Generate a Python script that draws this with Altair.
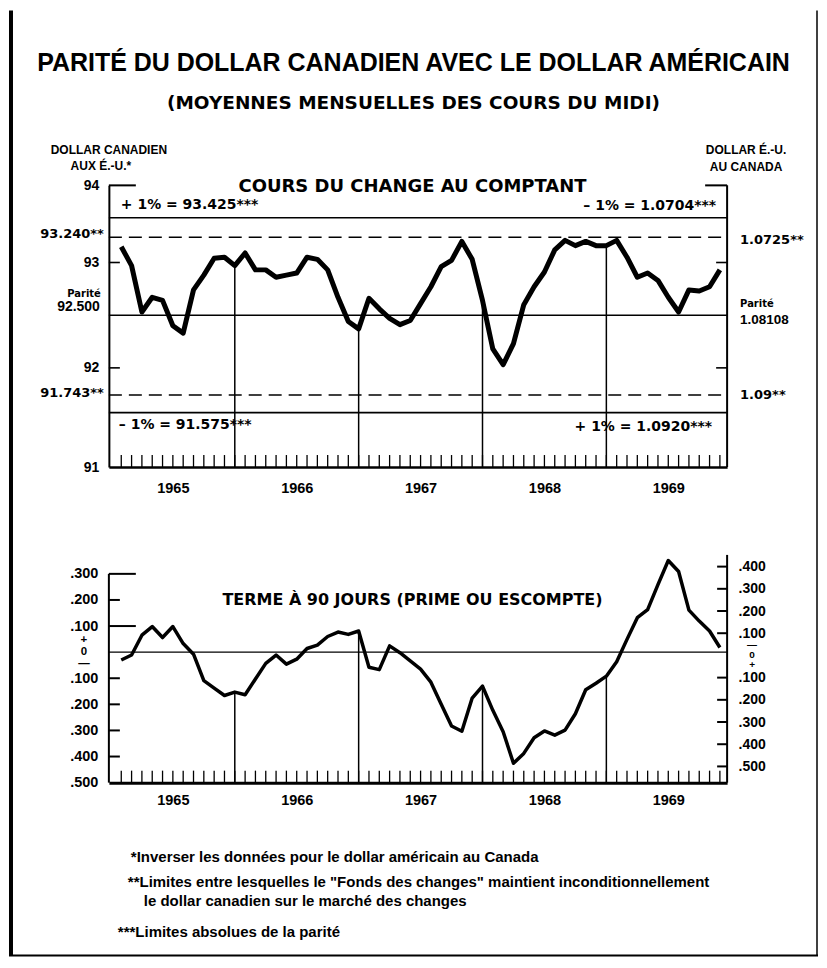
import altair as alt
import pandas as pd

# ---------------- data ----------------
month_index = list(range(59))  # 0 = Jan 1965 ... 58 = Nov 1969

spot_rate = [93.15, 92.97, 92.53, 92.67, 92.64, 92.40, 92.33, 92.74, 92.88, 93.04, 93.05, 92.97,
             93.09, 92.93, 92.93, 92.86, 92.88, 92.90, 93.05, 93.03, 92.93, 92.67, 92.44, 92.37,
             92.66, 92.56, 92.47, 92.41, 92.45, 92.61, 92.77, 92.96, 93.02, 93.20, 93.03, 92.64,
             92.18, 92.03, 92.23, 92.60, 92.77, 92.91, 93.12, 93.21, 93.16, 93.20, 93.16, 93.16,
             93.21, 93.05, 92.86, 92.90, 92.83, 92.67, 92.53, 92.74, 92.73, 92.77, 92.93]

forward_90 = [-0.030, -0.011, 0.065, 0.098, 0.056, 0.098, 0.033, -0.008, -0.109, -0.138, -0.166, -0.153,
              -0.163, -0.103, -0.043, -0.011, -0.046, -0.027, 0.014, 0.027, 0.060, 0.077, 0.068, 0.081,
              -0.058, -0.067, 0.024, -0.002, -0.033, -0.065, -0.115, -0.200, -0.283, -0.303, -0.176, -0.130,
              -0.223, -0.305, -0.426, -0.388, -0.328, -0.302, -0.318, -0.299, -0.236, -0.144, -0.119, -0.092,
              -0.037, 0.049, 0.132, 0.163, 0.259, 0.351, 0.309, 0.161, 0.119, 0.081, 0.018]

years = ["1965", "1966", "1967", "1968", "1969"]
year_label_month = [5, 17, 29, 41, 53]
december_month = [11, 23, 35, 47]

parity_can = 92.500
fund_limits_can = [93.240, 91.743]
absolute_limits_can = [93.425, 91.575]

top_axis_values = [91.059, 92, 93, 93.732]
top_axis_text = ["91", "92", "93", "94"]
top_inner_ticks = [92, 93]

bottom_left_values = [0.3, 0.2, 0.1, -0.1, -0.2, -0.3, -0.4, -0.5]
bottom_right_values = [0.4, 0.3, 0.2, 0.1, -0.1, -0.2, -0.3, -0.4, -0.5]
bottom_left_long = [0.3, 0.1]
bottom_left_short = [0.2, -0.1, -0.2, -0.3, -0.4]
left_zero_label = ["+", "0", "—"]
right_zero_label = ["—", "0", "+"]

title_text = "PARITÉ DU DOLLAR CANADIEN AVEC LE DOLLAR AMÉRICAIN"
subtitle_text = "(MOYENNES MENSUELLES DES COURS DU MIDI)"
left_unit = ["DOLLAR CANADIEN", "AUX É.-U.*"]
right_unit = ["DOLLAR É.-U.", "AU CANADA"]
top_panel_title = "COURS DU CHANGE AU COMPTANT"
bottom_panel_title = "TERME À 90 JOURS (PRIME OU ESCOMPTE)"
left_limit_labels = ["93.240**", "91.743**"]
right_limit_labels = ["1.0725**", "1.09**"]
parity_word = "Parité"
parity_left = "92.500"
parity_right = "1.08108"
abs_left_texts = ["+ 1% = 93.425***", "– 1% = 91.575***"]
abs_right_texts = ["– 1% = 1.0704***", "+ 1% = 1.0920***"]
footnotes = [
    "*Inverser les données pour le dollar  américain au Canada",
    "**Limites entre lesquelles le \"Fonds des changes\" maintient inconditionnellement",
    "le dollar canadien sur le marché des changes",
    "***Limites absolues de la parité",
]

# ---------------- styling / layout ----------------
SANS = "Liberation Sans"
WIDE = "DejaVu Sans"

W, H1, H2 = 619, 282, 228
GAP = 88

xs = alt.Scale(domain=[-1.2, 58.7], nice=False, zero=False)
yt = alt.Scale(domain=[91.059, 93.732], nice=False, zero=False)
ybl = alt.Scale(domain=[-0.5, 0.3726], nice=False, zero=False)
ybr = alt.Scale(domain=[-0.573, 0.4527], nice=False, zero=False)


def js_list(vals):
    return "[" + ",".join(repr(v) if not isinstance(v, str) else "'" + v + "'" for v in vals) + "]"


year_expr = js_list(years) + "[indexof(" + js_list(year_label_month) + ", datum.value)]"
top_y_expr = js_list(top_axis_text) + "[indexof(" + js_list(top_axis_values) + ", datum.value)]"
num_expr = "replace(format(abs(datum.value), '.3f'), '0.', '.')"


def x_axis(pad, dw):
    return alt.Axis(values=year_label_month, labelExpr=year_expr, ticks=False, grid=False,
                    domain=True, domainColor="black", domainWidth=dw, labelFont=SANS,
                    labelFontSize=14.5, labelFontWeight="bold", labelColor="black",
                    labelPadding=pad, labelFlush=False, title=None)


AX_X_TOP = x_axis(15, 2.5)
AX_X_BOT = x_axis(11, 3)
AX_Y_TOP = alt.Axis(values=top_axis_values, labelExpr=top_y_expr, ticks=False, grid=False,
                    domain=True, domainColor="black", domainWidth=2, labelFont=SANS,
                    labelFontSize=14, labelFontWeight="bold", labelColor="black",
                    labelPadding=10, title=None, orient="left")
AX_Y_BL = alt.Axis(values=bottom_left_values, labelExpr=num_expr, ticks=False, grid=False,
                   domain=False, labelFont=SANS, labelFontSize=14.5, labelFontWeight="bold",
                   labelColor="black", labelPadding=11, title=None, orient="left")
AX_Y_BR = alt.Axis(values=bottom_right_values, labelExpr=num_expr, ticks=False, grid=False,
                   domain=False, labelFont=SANS, labelFontSize=14, labelFontWeight="bold",
                   labelColor="black", labelPadding=11, title=None, orient="right")


def base(df=None):
    return alt.Chart(df if df is not None else pd.DataFrame({"k": [0]}))


def ptext(text, x, y, size, font=SANS, align="center"):
    return base().mark_text(text=text, font=font, fontSize=size, fontWeight="bold",
                            align=align, baseline="middle", color="black").encode(
        x=alt.value(x), y=alt.value(y))


def vtext(text, v, yscale, yaxis, x, dy, size, font=WIDE, align="left", line_height=None):
    mk = dict(text=text, font=font, fontSize=size, fontWeight="bold", align=align,
              baseline="middle", dy=dy, color="black")
    if line_height:
        mk["lineHeight"] = line_height
    return base(pd.DataFrame({"v": [v]})).mark_text(**mk).encode(
        x=alt.value(x), y=alt.Y("v:Q", scale=yscale, axis=yaxis))


def hrule(values, yscale, yaxis, x0, x1, sw, dash=None):
    mk = dict(color="black", strokeWidth=sw)
    if dash:
        mk["strokeDash"] = dash
    return base(pd.DataFrame({"v": values})).mark_rule(**mk).encode(
        y=alt.Y("v:Q", scale=yscale, axis=yaxis), x=alt.value(x0), x2=alt.value(x1))


def prule(x0, y0, x1, y1, sw):
    return base().mark_rule(color="black", strokeWidth=sw).encode(
        x=alt.value(x0), y=alt.value(y0), x2=alt.value(x1), y2=alt.value(y1))


df_spot = pd.DataFrame({"t": month_index, "v": spot_rate})
df_fwd = pd.DataFrame({"t": month_index, "v": forward_90})
df_dec_spot = pd.DataFrame({"t": december_month, "v": [spot_rate[i] for i in december_month]})
df_dec_fwd = pd.DataFrame({"t": december_month, "v": [forward_90[i] for i in december_month]})
df_months = pd.DataFrame({"t": month_index})


def month_ticks(h, xaxis):
    return base(df_months).mark_rule(color="black", strokeWidth=1.3).encode(
        x=alt.X("t:Q", scale=xs, axis=xaxis), y=alt.value(h - 12), y2=alt.value(h))


def drops(df, yscale, xaxis, yaxis, h):
    return base(df).mark_rule(color="black", strokeWidth=1.5).encode(
        x=alt.X("t:Q", scale=xs, axis=xaxis), y=alt.Y("v:Q", scale=yscale, axis=yaxis),
        y2=alt.value(h))


# ---------------- top panel: spot rate ----------------
spot_line = base(df_spot).mark_line(color="black", strokeWidth=5, strokeJoin="round").encode(
    x=alt.X("t:Q", scale=xs, axis=AX_X_TOP),
    y=alt.Y("v:Q", scale=yt, axis=AX_Y_TOP))

T = dict(yscale=yt, yaxis=AX_Y_TOP)

top = alt.layer(
    hrule(absolute_limits_can, x0=0, x1=W, sw=1.6, **T),
    hrule([parity_can], x0=0, x1=W, sw=1.6, **T),
    hrule(fund_limits_can, x0=0, x1=W, sw=1.6, dash=[13, 7], **T),
    drops(df_dec_spot, yt, AX_X_TOP, AX_Y_TOP, H1),
    month_ticks(H1, AX_X_TOP),
    hrule(top_inner_ticks, x0=0, x1=11, sw=1.6, **T),
    hrule(top_inner_ticks, x0=W - 11, x1=W, sw=1.6, **T),
    prule(0, 0, 27, 0, 2),
    prule(W - 22, 0, W, 0, 2),
    prule(W, 0, W, H1, 2),
    spot_line,
    # labels on the left
    vtext(left_limit_labels[0], fund_limits_can[0], x=-5, dy=-3, size=13, align="right", **T),
    vtext(left_limit_labels[1], fund_limits_can[1], x=-5, dy=-2, size=13, align="right", **T),
    vtext(parity_word, parity_can, x=-8, dy=-21, size=10, align="right", **T),
    vtext(parity_left, parity_can, x=-9, dy=-8, size=14, font=SANS, align="right", **T),
    # labels on the right
    vtext(right_limit_labels[0], fund_limits_can[0], x=W + 13, dy=3, size=13, **T),
    vtext(right_limit_labels[1], fund_limits_can[1], x=W + 13, dy=0, size=13, **T),
    vtext(parity_word, parity_can, x=W + 13, dy=-11, size=10, **T),
    vtext(parity_right, parity_can, x=W + 13, dy=5, size=13.5, font=SANS, **T),
    # absolute limits
    vtext(abs_left_texts[0], absolute_limits_can[0], x=12, dy=-13, size=14, **T),
    vtext(abs_right_texts[0], absolute_limits_can[0], x=608, dy=-12, size=14, align="right", **T),
    vtext(abs_left_texts[1], absolute_limits_can[1], x=10, dy=12, size=14, **T),
    vtext(abs_right_texts[1], absolute_limits_can[1], x=604, dy=14, size=14, align="right", **T),
    # headings
    ptext(title_text, 305, -123, 25, SANS),
    ptext(subtitle_text, 305, -82, 18.5, WIDE),
    ptext(left_unit[0], 0, -35, 12, SANS),
    ptext(left_unit[1], -8, -19, 12, SANS),
    ptext(right_unit[0], 638, -35, 12, SANS),
    ptext(right_unit[1], 638, -18, 12, SANS),
    ptext(top_panel_title, 304, 2, 18, WIDE),
    # frame of the figure
    prule(-98, -175, -98, 771, 4),
    prule(709, -175, 709, 771, 1.5),
    prule(-100, 771, 710, 771, 2),
).properties(width=W, height=H1)

# ---------------- bottom panel: 90-day forward ----------------
fwd_line = base(df_fwd).mark_line(color="black", strokeWidth=3.5, strokeJoin="round").encode(
    x=alt.X("t:Q", scale=xs, axis=AX_X_BOT),
    y=alt.Y("v:Q", scale=ybl, axis=AX_Y_BL))

BL = dict(yscale=ybl, yaxis=AX_Y_BL)
BR = dict(yscale=ybr, yaxis=AX_Y_BR)

left_axis_line = base(pd.DataFrame({"v": [bottom_left_values[0]], "v2": [bottom_left_values[-1]]})).mark_rule(
    color="black", strokeWidth=2).encode(
    x=alt.value(0), y=alt.Y("v:Q", scale=ybl, axis=AX_Y_BL), y2="v2:Q")

left_group = alt.layer(
    hrule([0], x0=0, x1=W, sw=1.3, **BL),
    left_axis_line,
    hrule(bottom_left_long, x0=0, x1=27, sw=2, **BL),
    hrule(bottom_left_short, x0=0, x1=11, sw=2, **BL),
    drops(df_dec_fwd, ybl, AX_X_BOT, AX_Y_BL, H2),
    month_ticks(H2, AX_X_BOT),
    prule(W, 0, W, H2, 2),
    fwd_line,
    vtext(left_zero_label, 0, x=-25, dy=-12, size=11.5, font=SANS, align="center", line_height=12, **BL),
    ptext(bottom_panel_title, 304, 45, 16, WIDE),
    ptext(footnotes[0], 22, 302, 15, SANS, "left"),
    ptext(footnotes[1], 19, 327, 15, SANS, "left"),
    ptext(footnotes[2], 35, 347, 15, SANS, "left"),
    ptext(footnotes[3], 9, 378, 15, SANS, "left"),
)

right_ticks = base(pd.DataFrame({"v": bottom_right_values})).mark_rule(color="black", strokeWidth=2).encode(
    y=alt.Y("v:Q", scale=ybr, axis=AX_Y_BR), x=alt.value(W - 10), x2=alt.value(W))

right_group = alt.layer(
    right_ticks,
    vtext(right_zero_label, 0, x=W + 25, dy=-10, size=10, font=SANS, align="center", line_height=10, **BR),
)

bottom = alt.layer(left_group, right_group).resolve_scale(y="independent").properties(width=W, height=H2)

chart = alt.vconcat(top, bottom, spacing=GAP, bounds="flush").properties(
    padding=0, background="white").configure_view(stroke=None)

chart.save("out.html", embed_options={"renderer": "svg", "actions": False})
